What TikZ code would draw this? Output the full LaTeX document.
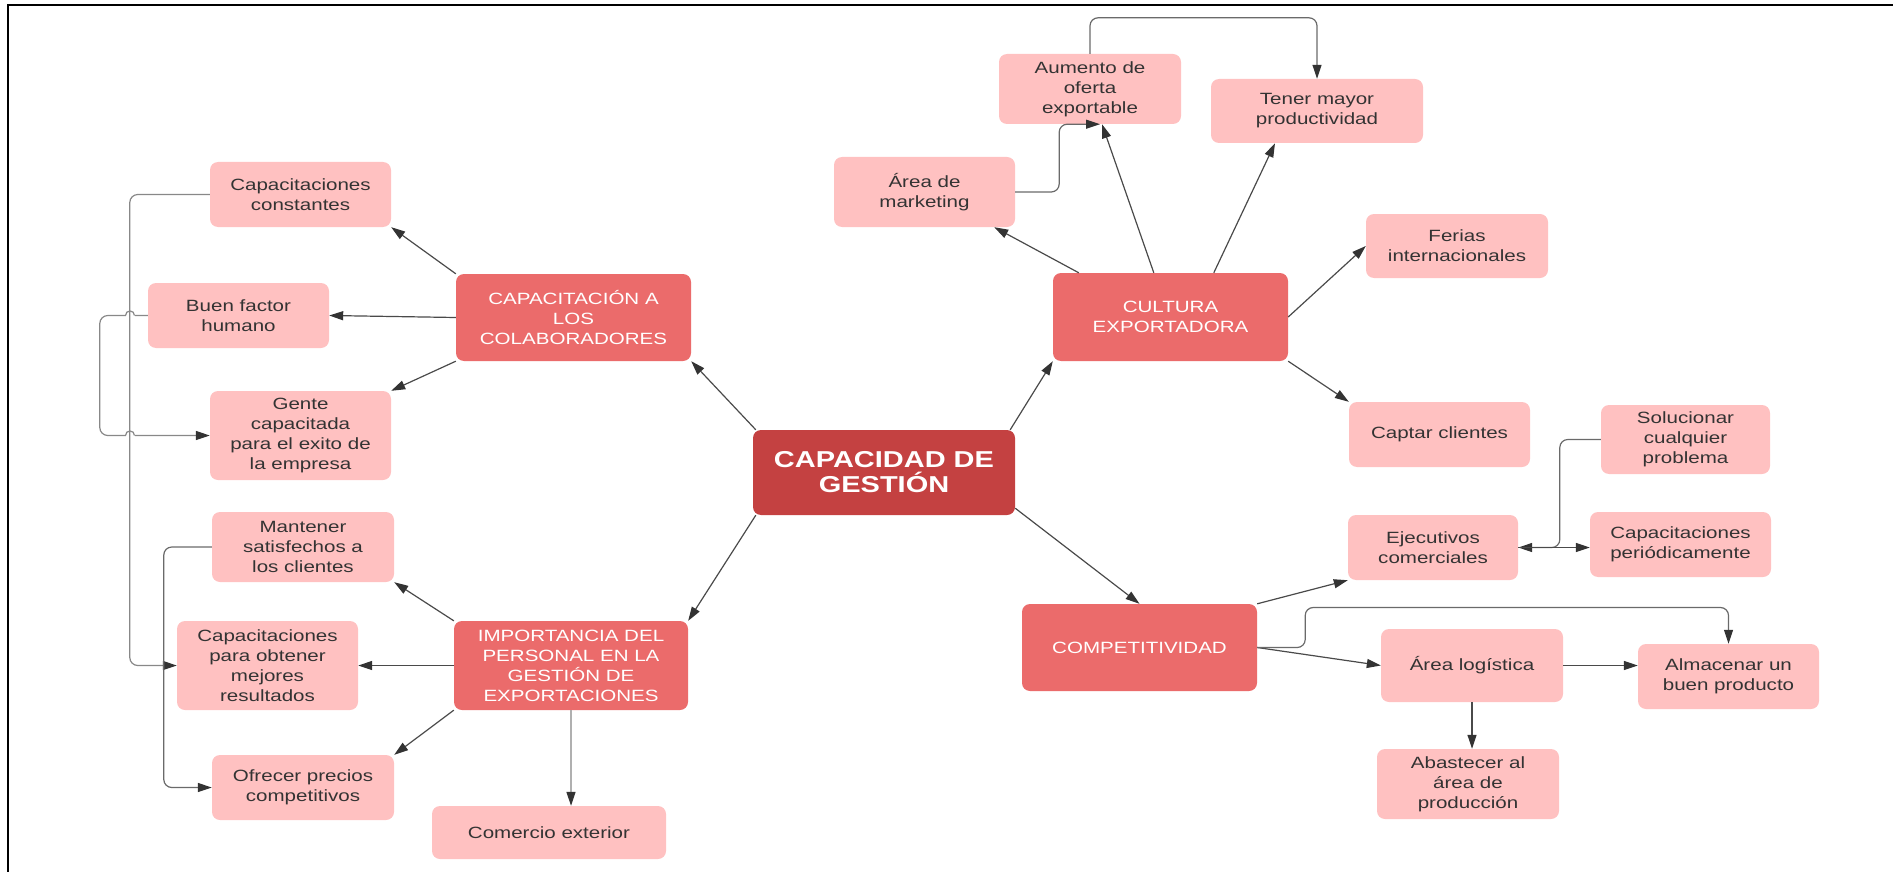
\documentclass[tikz,border=0pt]{standalone}
\usepackage{fontspec}
\setmainfont{Liberation Sans}[FakeStretch=1.26]
\usetikzlibrary{arrows.meta,calc}
\definecolor{pinkbox}{HTML}{FFC1C1}
\definecolor{redbox}{HTML}{EB6B6B}
\definecolor{darkred}{HTML}{C44141}
\definecolor{txt}{HTML}{333333}
\definecolor{ln}{HTML}{4A4A4A}
\definecolor{lng}{HTML}{6A6A6A}
\definecolor{lnl}{HTML}{B0B0B0}
\definecolor{tip}{HTML}{333333}
\begin{document}
\begin{tikzpicture}[x=1pt,y=-1pt,
  sz/.style 2 args={minimum width=#1pt, minimum height=#2pt},
  boxbase/.style={rounded corners=8pt, inner sep=0pt, align=center},
  leaf/.style={boxbase, fill=pinkbox, text=txt, font=\fontsize{16.3}{20}\selectfont},
  topic/.style={boxbase, fill=redbox, text=white, font=\fontsize{16.3}{20}\selectfont},
  hub/.style={boxbase, fill=darkred, text=white, font=\fontsize{23}{25}\selectfont\bfseries},
  conn/.style={draw=ln, line width=1.2pt, -{Triangle[length=14pt,width=9pt,color=tip]}},
  elbow/.style={conn, draw=lng, rounded corners=8pt},
]
\useasboundingbox (0,0) rectangle (1893,872);
% frame
\draw[line width=2pt, black] (8,872) -- (8,5) -- (1893,5);

% nodes
\node[hub, sz={262}{85}] (cen) at (884,472.5) {CAPACIDAD DE\\GESTIÓN};

\node[topic, sz={235}{87}] (capcol) at (573.5,317.5) {CAPACITACIÓN A\\LOS\\COLABORADORES};
\node[leaf, sz={181}{65}] (capcon) at (300.5,194.5) {Capacitaciones\\constantes};
\node[leaf, sz={181}{65}] (buen) at (238.5,315.5) {Buen factor\\humano};
\node[leaf, sz={181}{89}] (gente) at (300.5,435.5) {Gente\\capacitada\\para el exito de\\la empresa};

\node[topic, sz={234}{89}] (imp) at (571,665.5) {IMPORTANCIA DEL\\PERSONAL EN LA\\GESTIÓN DE\\EXPORTACIONES};
\node[leaf, sz={182}{70}] (mant) at (303,547) {Mantener\\satisfechos a\\los clientes};
\node[leaf, sz={181}{89}] (capobt) at (267.5,665.5) {Capacitaciones\\para obtener\\mejores\\resultados};
\node[leaf, sz={182}{65}] (ofre) at (303,787.5) {Ofrecer precios\\competitivos};
\node[leaf, sz={234}{53}] (come) at (549,832.5) {Comercio exterior};

\node[topic, sz={235}{88}] (cult) at (1170.5,317) {CULTURA\\EXPORTADORA};
\node[leaf, sz={181}{70}] (mkt) at (924.5,192) {Área de\\marketing};
\node[leaf, sz={182}{70}] (aum) at (1090,89) {Aumento de\\oferta\\exportable};
\node[leaf, sz={212}{64}] (tener) at (1317,111) {Tener mayor\\productividad};
\node[leaf, sz={182}{64}] (ferias) at (1457,246) {Ferias\\internacionales};
\node[leaf, sz={181}{65}] (captar) at (1439.5,434.5) {Captar clientes};

\node[topic, sz={235}{87}] (comp) at (1139.5,647.5) {COMPETITIVIDAD};
\node[leaf, sz={169}{69}] (sol) at (1685.5,439.5) {Solucionar\\cualquier\\problema};
\node[leaf, sz={170}{65}] (ejec) at (1433,547.5) {Ejecutivos\\comerciales};
\node[leaf, sz={181}{65}] (capper) at (1680.5,544.5) {Capacitaciones\\periódicamente};
\node[leaf, sz={182}{73}] (log) at (1472,665.5) {Área logística};
\node[leaf, sz={181}{65}] (alm) at (1728.5,676.5) {Almacenar un\\buen producto};
\node[leaf, sz={182}{70}] (abas) at (1468,784) {Abastecer al\\área de\\producción};

% hub connectors
\draw[conn] ([xshift=3pt]cen.north west) -- (capcol.south east);
\draw[conn] ([xshift=-5pt]cen.north east) -- (cult.south west);
\draw[conn] ([xshift=3pt]cen.south west) -- (imp.north east);
\draw[conn] ([yshift=7pt]cen.south east) -- (comp.north);

% capacitacion a los colaboradores
\draw[conn] (capcol.north west) -- (capcon.south east);
\draw[conn] (capcol.west) -- (buen.east);
\draw[conn] (capcol.south west) -- (gente.north east);

% left brackets
\draw[elbow, draw=lng!80] (buen.west) -- ++(-48,0) |- (gente.west);
\fill[white] (125.5,311) rectangle (134.5,320);
\fill[white] (125.5,431) rectangle (134.5,440);
\draw[draw=lng!80, line width=1.2pt] (125.5,315.5) .. controls (125.5,309.5) and (134.5,309.5) .. (134.5,315.5);
\draw[draw=lng!80, line width=1.2pt] (125.5,435.5) .. controls (125.5,429.5) and (134.5,429.5) .. (134.5,435.5);
\draw[elbow, draw=lng!80] (capcon.west) -- ++(-80,0) |- (capobt.west);
\draw[elbow] (mant.west) -- ++(-48,0) |- (ofre.west);

% importancia
\draw[conn] (imp.north west) -- (mant.south east);
\draw[conn] (imp.west) -- (capobt.east);
\draw[conn] (imp.south west) -- (ofre.north east);
\draw[conn, draw=lnl] (imp.south) -- (imp.south |- come.north);

% cultura exportadora
\draw[conn] ([xshift=26pt]cult.north west) -- ([xshift=-21pt]mkt.south east);
\draw[conn] ([xshift=101pt]cult.north west) -- ([xshift=12pt]aum.south);
\draw[conn] ([xshift=161pt]cult.north west) -- ([xshift=-42pt]tener.south);
\draw[conn] (cult.east) -- (ferias.west);
\draw[conn] (cult.south east) -- (captar.north west);
\draw[elbow] (mkt.east) -- ++(44,0) |- ([xshift=10pt]aum.south);
\draw[elbow] (aum.north) -- ++(0,-36) -| (tener.north);

% competitividad
\draw[conn] (comp.north east) -- (ejec.south west);
\draw[conn] (comp.east) -- (log.west);
\draw[elbow] (comp.east) -- ++(48,0) -- ++(0,-40) -| (alm.north);
\draw[conn] (log.east) -- (alm.west |- log.east);
\draw[conn] (log.south) -- (log.south |- abas.north);
\draw[elbow] (sol.west) -- ++(-41,0) |- (ejec.east);
\draw[conn] (ejec.east) -- (capper.west |- ejec.east);
\end{tikzpicture}
\end{document}
